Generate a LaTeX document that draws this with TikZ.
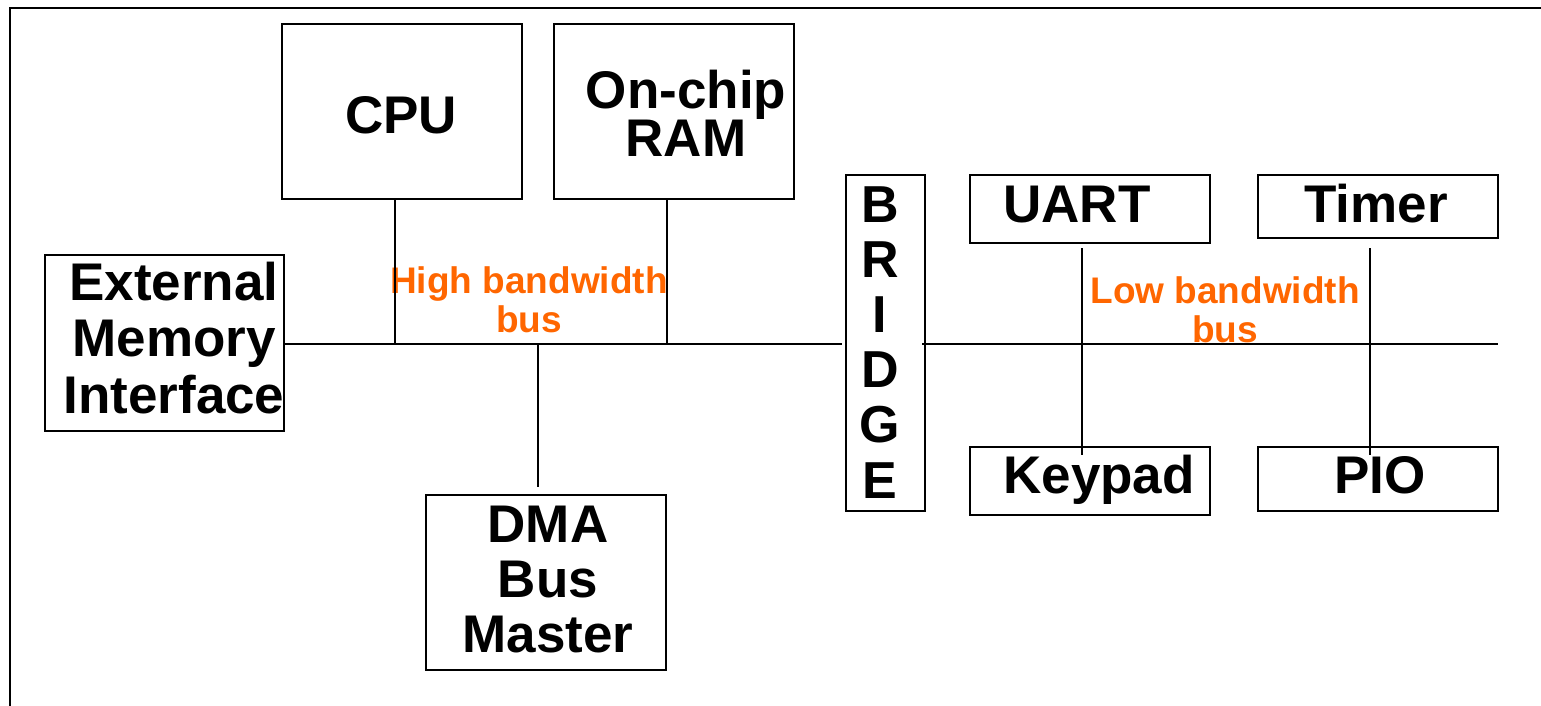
\documentclass[tikz,border=0pt]{standalone}
\usepackage{fontspec}
\setmainfont{Liberation Sans}
\definecolor{busorange}{HTML}{FF6600}
\begin{document}
\begin{tikzpicture}[x=1pt,y=-1pt,
  box/.style={draw,line width=2.2pt,inner sep=0pt,outer sep=0pt},
  lbl/.style={inner sep=0pt,anchor=base,align=center,font=\bfseries\fontsize{53}{56}\selectfont},
  buslbl/.style={inner sep=0pt,anchor=base,align=center,text=busorange,font=\bfseries\fontsize{37}{39}\selectfont},
  wire/.style={line width=2pt}]
\useasboundingbox (0,0) rectangle (1541,706);
% outer frame (top and left edges)
\draw[line width=2.2pt] (10,706) -- (10,8) -- (1541,8);
% boxes
\node[box,minimum width=240pt,minimum height=175pt] (cpu) at (402,111.5) {};
\node[box,minimum width=240pt,minimum height=175pt] (ram) at (674,111.5) {};
\node[box,minimum width=239pt,minimum height=176pt] (ext) at (164.5,343) {};
\node[box,minimum width=240pt,minimum height=175pt] (dma) at (546,582.5) {};
\node[box,minimum width=79pt,minimum height=336pt] (bridge) at (885.5,343) {};
\node[box,minimum width=240pt,minimum height=68pt] (uart) at (1090,209) {};
\node[box,minimum width=240pt,minimum height=63pt] (timer) at (1378,206.5) {};
\node[box,minimum width=240pt,minimum height=68pt] (keypad) at (1090,481) {};
\node[box,minimum width=240pt,minimum height=64pt] (pio) at (1378,479) {};
% labels
\node[lbl] (tcpu) at (401,133) {CPU};
\node[lbl,font=\bfseries\fontsize{53}{46}\selectfont] (tram) at (686,157) {On-chip\\RAM};
\node[lbl,font=\bfseries\fontsize{53}{56.5}\selectfont] (text) at (174,413) {External\\Memory\\Interface};
\node[lbl,font=\bfseries\fontsize{53}{55}\selectfont] (tdma) at (548,652) {DMA\\Bus\\Master};
\node[lbl,font=\bfseries\fontsize{52}{55.2}\selectfont] (tbridge) at (880,498) {B\\R\\I\\D\\G\\E};
\node[lbl] (tuart) at (1077,222) {UART};
\node[lbl] (ttimer) at (1376,222) {Timer};
\node[lbl] (tkeypad) at (1099,493) {Keypad};
\node[lbl] (tpio) at (1380,493) {PIO};
\node[buslbl] (hbus) at (529,332) {High bandwidth\\bus};
\node[buslbl] (lbus) at (1225,342) {Low bandwidth\\bus};
% bus coordinates
\coordinate (hbend) at (842,344);
\coordinate (lbstart) at (922,344);
\coordinate (lbend) at (1498,344);
\coordinate (cputap) at (395,344);
\coordinate (ramtap) at (667,344);
\coordinate (dmatap) at (538,344);
\coordinate (dmaend) at (538,487);
\coordinate (uarttop) at (1082,248);
\coordinate (uartbot) at (1082,455);
\coordinate (timertop) at (1370,248);
\coordinate (timerbot) at (1370,455);
% buses
\draw[wire] (ext.east |- hbend) -- (hbend);
\draw[wire] (lbstart) -- (lbend);
% taps
\draw[wire] (cpu.south -| cputap) -- (cputap);
\draw[wire] (ram.south -| ramtap) -- (ramtap);
\draw[wire] (dmatap) -- (dmaend);
\draw[wire] (uarttop) -- (uartbot);
\draw[wire] (timertop) -- (timerbot);
\end{tikzpicture}
\end{document}
